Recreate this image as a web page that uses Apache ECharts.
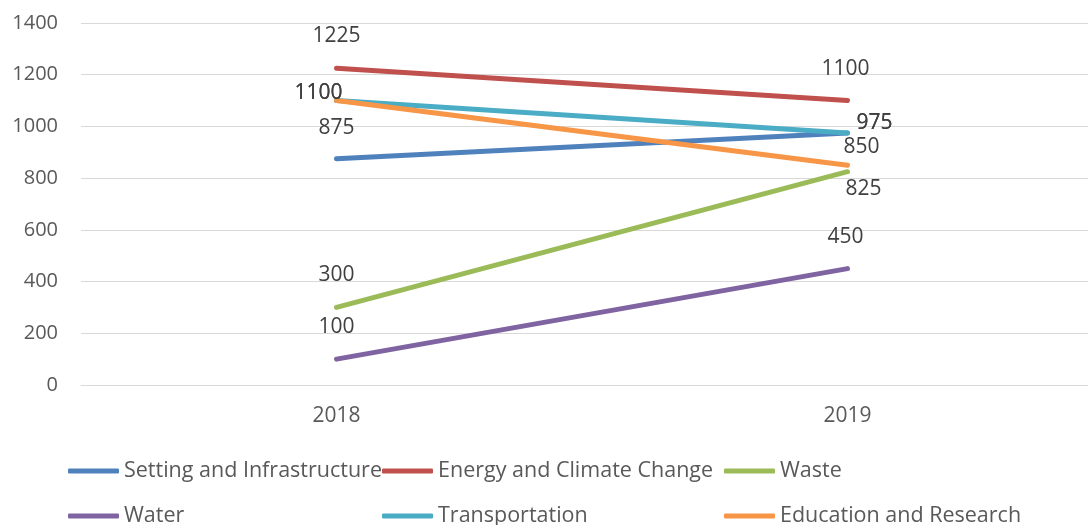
<!DOCTYPE html>
<html>
<head>
<meta charset="utf-8">
<script src="https://cdn.jsdelivr.net/npm/echarts@6/dist/echarts.min.js"></script>
<style>
  html, body { margin: 0; padding: 0; background: #fff; }
  #chart { width: 1088px; height: 525px; }
</style>
</head>
<body>
<div id="chart"></div>
<script>
// Years on the category axis
const years = ['2018', '2019'];

// Values per theme
const settingInfrastructure = [875, 975];
const energyClimate = [1225, 1100];
const waste = [300, 825];
const water = [100, 450];
const transportation = [1100, 975];
const educationResearch = [1100, 850];

// Value-axis range
const yMin = 0;
const yMax = 1400;
const yStep = 200;

const FONT = 'Open Sans';
const TEXT = '#595959';
const LABEL = '#404040';
const FS = 21;

// Where each value label sits relative to its point (pixels, label centre)
const labelOffsets = {
  'Setting and Infrastructure': [[0, -31], [27, -10]],
  'Energy and Climate Change': [[0, -32], [-2, -32]],
  'Waste': [[0, -32], [16, 17]],
  'Water': [[0, -32], [-2, -32]],
  'Transportation': [[-18, -8], [27, -10]],
  'Education and Research': [[-18, -8], [14, -18]]
};

const seriesDefs = [
  { name: 'Setting and Infrastructure', values: settingInfrastructure, color: '#4F81BD' },
  { name: 'Energy and Climate Change', values: energyClimate, color: '#C0504D' },
  { name: 'Waste', values: waste, color: '#9BBB59' },
  { name: 'Water', values: water, color: '#8064A2' },
  { name: 'Transportation', values: transportation, color: '#4BACC6' },
  { name: 'Education and Research', values: educationResearch, color: '#F79646' }
];

const series = seriesDefs.map(function (d) {
  return {
    name: d.name,
    type: 'line',
    data: d.values.map(function (v, i) {
      return {
        value: v,
        label: { offset: labelOffsets[d.name][i] }
      };
    }),
    color: d.color,
    symbol: 'circle',
    symbolSize: 1,
    showSymbol: true,
    lineStyle: { width: 5, color: d.color, cap: 'round', join: 'round' },
    itemStyle: { color: d.color },
    label: {
      show: true,
      position: 'inside',
      color: LABEL,
      fontFamily: FONT,
      fontSize: FS
    },
    emphasis: { disabled: true },
    animation: false
  };
});

// Legend laid out as a fixed 3 x 2 grid
const legendCols = [63, 377, 719];
const legendRows = [455, 500];
const legends = seriesDefs.map(function (d, i) {
  return {
    left: legendCols[i % 3],
    top: legendRows[Math.floor(i / 3)],
    data: [d.name],
    icon: 'roundRect',
    itemWidth: 51,
    itemHeight: 5,
    selectedMode: false,
    textStyle: { color: TEXT, fontFamily: FONT, fontSize: 21.5 }
  };
});

const chart = echarts.init(document.getElementById('chart'), null, { renderer: 'canvas' });
chart.setOption({
  backgroundColor: '#ffffff',
  animation: false,
  textStyle: { fontFamily: FONT },
  grid: {
    left: 81, width: 1022, top: 23, bottom: 140,
    containLabel: false, outerBoundsMode: 'none'
  },
  legend: legends,
  xAxis: {
    type: 'category',
    data: years,
    boundaryGap: true,
    axisLine: { show: true, lineStyle: { color: '#D9D9D9', width: 1 } },
    axisTick: { show: false },
    axisLabel: { color: TEXT, fontFamily: FONT, fontSize: FS, margin: 21 },
    splitLine: { show: false }
  },
  yAxis: {
    type: 'value',
    min: yMin,
    max: yMax,
    interval: yStep,
    axisLine: { show: false },
    axisTick: { show: false },
    axisLabel: {
      color: TEXT, fontFamily: FONT, fontSize: 20, margin: 23,
      formatter: function (v) { return String(v); }
    },
    splitLine: { show: true, lineStyle: { color: '#D9D9D9', width: 1 } }
  },
  series: series
});
</script>
</body>
</html>
